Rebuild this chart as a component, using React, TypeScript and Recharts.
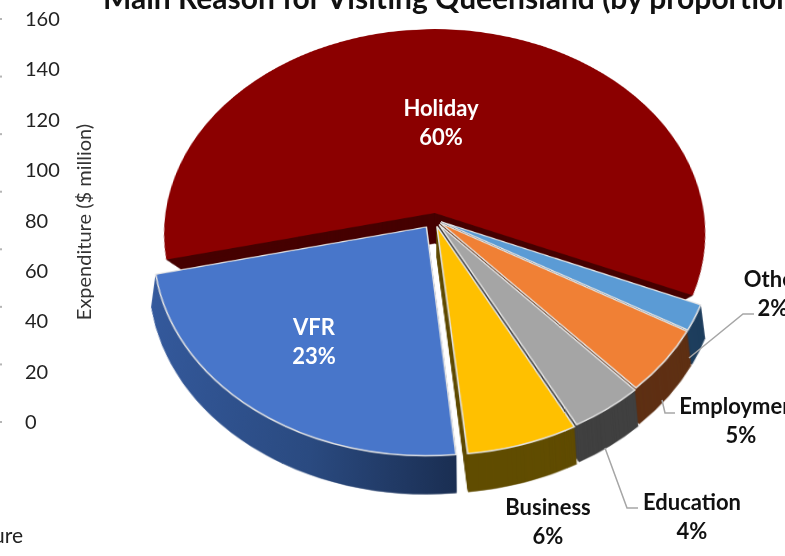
import React from "react";
import { Line, LineChart, Pie, PieChart, YAxis } from "recharts";

const reasons = ["Holiday", "Other", "Employment", "Education", "Business", "VFR"];
const shares = [60, 2, 5, 4, 6, 23];
const topColors = ["#8b0000", "#5b9bd5", "#f08035", "#a5a5a5", "#ffc000", "#4876ca"];
const sideColors = ["#470000", "#1f3f5e", "#5f3014", "#404040", "#614d00", "url(#vfrSide)"];
const explode = [8, 8, 8, 9, 10, 13];

const axisTicks = [0, 20, 40, 60, 80, 100, 120, 140, 160];
const edgeMarks = [0, 1, 2, 3, 4, 5, 6, 7];

const FONT = "Lato, sans-serif";
const SIZE = 780;
const CENTER = SIZE / 2;
const RADIUS = 270;
const DEPTH = 40;
const START = 193;

const layers = Array.from({ length: DEPTH }, (_, i) => DEPTH - i);
const axisRows = axisTicks.map((tick, i) => ({ tick, mark: edgeMarks[i] ?? 7 }));

const slices = (() => {
  let angle = START;
  return reasons.map((name, i) => {
    const sweep = (shares[i] / 100) * 360;
    const startAngle = angle;
    const endAngle = angle - sweep;
    angle = endAngle;
    const mid = ((startAngle + endAngle) / 2) * (Math.PI / 180);
    return {
      name,
      value: shares[i],
      startAngle,
      endAngle,
      cx: CENTER + explode[i] * Math.cos(mid),
      cy: CENTER - explode[i] * Math.sin(mid),
      top: topColors[i],
      side: sideColors[i],
    };
  });
})();

const ValueTick = ({ y, payload }: any) => (
  <text x={25} y={y + 7} fontFamily={FONT} fontSize={20} fill="#222">
    {payload.value}
  </text>
);

const EdgeMark = ({ y }: any) => <rect x={0} y={y - 1} width={2} height={2} fill="#b5b5b5" />;

const Label = ({ x, y, lines, fill = "#111" }: { x: number; y: number; lines: string[]; fill?: string }) => (
  <text textAnchor="middle" fontFamily={FONT} fontWeight={700} fontSize={22} fill={fill}>
    {lines.map((line, i) => (
      <tspan key={line} x={x} y={y + i * 29}>
        {line}
      </tspan>
    ))}
  </text>
);

const Leader = ({ points }: { points: string }) => (
  <polyline points={points} fill="none" stroke="#a6a6a6" strokeWidth={1.5} />
);

const App = () => {
  return (
    <div style={{ position: "absolute", left: 0, top: 0, width: 785, height: 556, overflow: "hidden", background: "#fff" }}>
      <div
        style={{
          position: "absolute",
          left: 434 - CENTER,
          top: 219 - CENTER,
          width: SIZE,
          height: SIZE,
          transform: "perspective(1737px) rotateX(41deg)",
          transformOrigin: "50% 50%",
        }}
      >
        <PieChart width={SIZE} height={SIZE} margin={{ top: 0, right: 0, bottom: 0, left: 0 }}>
          <defs>
            <linearGradient id="vfrSide" x1="0" y1="0" x2="1" y2="0">
              <stop offset="0%" stopColor="#34599c" />
              <stop offset="55%" stopColor="#2a4a80" />
              <stop offset="100%" stopColor="#1a2e52" />
            </linearGradient>
          </defs>
          {slices.flatMap((s) => [
            ...layers.map((k) => (
              <Pie
                key={`${s.name}-${k}`}
                data={[{ name: s.name, value: s.value }]}
                dataKey="value"
                cx={s.cx}
                cy={s.cy + k}
                innerRadius={0}
                // the big back slice shows only its cut faces, not its rim
                outerRadius={s.name === "Holiday" ? RADIUS - k : RADIUS}
                startAngle={s.startAngle}
                endAngle={s.endAngle}
                fill={s.side}
                stroke={s.side}
                strokeWidth={0.5}
                isAnimationActive={false}
              />
            )),
            <Pie
              key={`${s.name}-top`}
              data={[{ name: s.name, value: s.value }]}
              dataKey="value"
              cx={s.cx}
              cy={s.cy}
              innerRadius={0}
              outerRadius={RADIUS}
              startAngle={s.startAngle}
              endAngle={s.endAngle}
              fill={s.top}
              stroke={s.name === "Holiday" ? "none" : "#e4e4e4"}
              strokeWidth={1.5}
              isAnimationActive={false}
            />,
          ])}
        </PieChart>
      </div>

      <div style={{ position: "absolute", left: 0, top: 0 }}>
        <LineChart width={785} height={556} data={axisRows} margin={{ top: 19, right: 0, bottom: 134, left: 0 }}>
          <YAxis
            yAxisId="value"
            width={60}
            domain={[0, 160]}
            ticks={axisTicks}
            interval={0}
            axisLine={false}
            tickLine={false}
            tick={<ValueTick />}
          />
          <YAxis
            yAxisId="marks"
            width={1}
            domain={[0, 7]}
            ticks={edgeMarks}
            interval={0}
            axisLine={false}
            tickLine={false}
            tick={<EdgeMark />}
          />
          <Line yAxisId="value" dataKey="tick" stroke="none" dot={false} isAnimationActive={false} />
          <Line yAxisId="marks" dataKey="mark" stroke="none" dot={false} isAnimationActive={false} />
          <text x={103} y={9} fontFamily={FONT} fontWeight={700} fontSize={30} fill="#111">
            Main Reason for Visiting Queensland (by proportion)
          </text>
          <text
            x={91}
            y={222}
            transform="rotate(-90 91 222)"
            textAnchor="middle"
            fontFamily={FONT}
            fontSize={20}
            fill="#333"
          >
            Expenditure ($ million)
          </text>
          <text x={23} y={543} textAnchor="end" fontFamily={FONT} fontSize={21} fill="#222">
            Expenditure
          </text>
          <Leader points="689,358 743,314 754,314" />
          <Leader points="662,400 665,413 675,413" />
          <Leader points="605,448 627,508 638,508" />
          <Label x={441} y={116} lines={["Holiday", "60%"]} fill="#fff" />
          <Label x={314} y={335} lines={["VFR", "23%"]} fill="#fff" />
          <Label x={773} y={287} lines={["Other", "2%"]} />
          <Label x={741} y={414} lines={["Employment", "5%"]} />
          <Label x={692} y={510} lines={["Education", "4%"]} />
          <Label x={548} y={515} lines={["Business", "6%"]} />
        </LineChart>
      </div>
    </div>
  );
};

export default App;
